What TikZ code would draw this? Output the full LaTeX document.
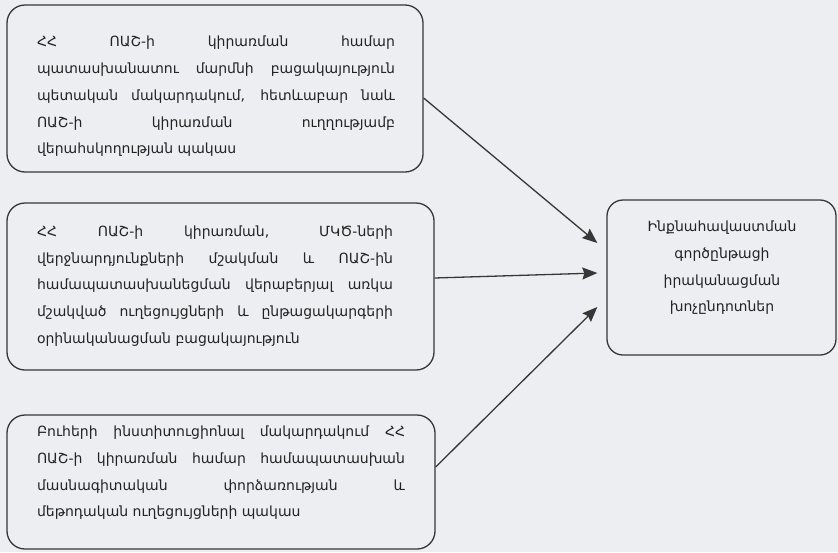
\documentclass[tikz,border=0pt]{standalone}
\usepackage{fontspec}
\setmainfont{DejaVu Sans}
\usetikzlibrary{arrows.meta}
\definecolor{paper}{RGB}{236,238,242}
\definecolor{ink}{RGB}{55,55,55}
\definecolor{inktext}{RGB}{35,35,35}
\hyphenpenalty=10000
\exhyphenpenalty=10000

\tikzset{
	box/.style={draw=ink, line width=1.3pt, rounded corners=18pt},
	txt/.style={text=inktext, inner sep=0pt, align=justify, font=\fontsize{14}{26.7}\selectfont},
	arr/.style={draw=ink, line width=1.3pt, -{Stealth[length=15pt,width=12pt,inset=2pt]}}
}

\begin{document}
\begin{tikzpicture}[x=1pt, y=-1pt]
	\fill[paper] (0,0) rectangle (838,552);
	\useasboundingbox (0,0) rectangle (838,552);
	% causes
	\node (a) at (215,88.5) [box, minimum width=416pt, minimum height=167pt] {};
		\node (ta) at (216,96.5) [txt, text width=358pt] {ՀՀ ՈԱՇ-ի կիրառման համար\linebreak պատասխանատու մարմնի բացակայություն\linebreak պետական մակարդակում, հետևաբար նաև\linebreak ՈԱՇ-ի կիրառման ուղղությամբ\linebreak վերահսկողության պակաս};
	\node (b) at (220.5,286.5) [box, minimum width=427pt, minimum height=167pt] {};
		\node (tb) at (215,286) [txt, text width=356pt] {ՀՀ ՈԱՇ-ի կիրառման, ՄԿԾ-ների\linebreak վերջնարդյունքների մշակման և ՈԱՇ-ին\linebreak համապատասխանեցման վերաբերյալ առկա\linebreak մշակված ուղեցույցների և ընթացակարգերի\linebreak օրինականացման բացակայություն};
	\node (c) at (221,482) [box, minimum width=428pt, minimum height=134pt] {};
		\node (tc) at (221,473) [txt, text width=368pt] {Բուհերի ինստիտուցիոնալ մակարդակում ՀՀ\linebreak ՈԱՇ-ի կիրառման համար համապատասխան\linebreak մասնագիտական փորձառության և\linebreak մեթոդական ուղեցույցների պակաս};
	% result
	\node (r) at (721.5,277.5) [box, minimum width=229pt, minimum height=155pt, rounded corners=16pt] {};
		\node (tr) at (722,268) [txt, align=center] {Ինքնահավաստման\\ գործընթացի\\ իրականացման\\ խոչընդոտներ};
	\draw[arr] ([yshift=-9.5pt]a.east) -- ([xshift=-9pt,yshift=34.5pt]r.west);
	\draw[arr] ([yshift=8.5pt]b.east) -- ([xshift=-9pt,yshift=4.5pt]r.west);
	\draw[arr] ([yshift=15pt]c.east) -- ([xshift=-9pt,yshift=-29.5pt]r.west);
\end{tikzpicture}
\end{document}
